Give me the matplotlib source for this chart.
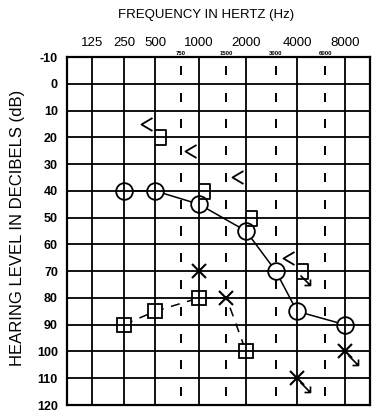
#!/usr/bin/env python3
"""Audiogram: hearing level vs frequency, both ears, air and bone conduction
"""

import numpy as np
import matplotlib
matplotlib.use("Agg")
import matplotlib.pyplot as plt
from matplotlib.path import Path

plt.rcParams['font.family'] = ['Liberation Sans', 'DejaVu Sans']

#--- data (hearing level in dB HL)
#
octave_freqs = [125, 250, 500, 1000, 2000, 4000, 8000]
half_octave_freqs = [750, 1500, 3000, 6000]
db_levels = list(range(-10, 121, 10))

# right ear, air conduction (O)
right_ac_freqs = [250, 500, 1000, 2000, 3000, 4000, 8000]
right_ac_db = [40, 40, 45, 55, 70, 85, 90]

# left ear, air conduction unmasked (X)
left_ac_freqs = [1000, 1500, 4000, 8000]
left_ac_db = [70, 80, 110, 100]
left_ac_nr = [False, False, True, True]

# left ear, air conduction masked (square)
left_masked_freqs = [250, 500, 1000, 2000]
left_masked_db = [90, 85, 80, 100]

# dashed left ear trace
left_trace_freqs = [250, 500, 1000, 1500, 2000]
left_trace_db = [90, 85, 80, 80, 100]

# right ear, bone conduction unmasked (<)
right_bc_freqs = [500, 1000, 2000, 4000]
right_bc_db = [15, 25, 35, 65]

# left ear, bone conduction masked (])
left_bc_freqs = [500, 1000, 2000, 4000]
left_bc_db = [20, 40, 50, 70]
left_bc_nr = [False, False, False, True]

DPI = 100

# the printed form does not space its octaves evenly
col_oct = [-0.5, 0, 1, 2, 3, 4, 5, 6, 6.5]
col_pos = [0, 25, 57, 88, 132, 179, 230, 278, 303]


def fwd(f):
    f = np.clip(np.asarray(f, dtype=float), 1e-3, None)
    return np.interp(np.log2(f / 125.0), col_oct, col_pos)


def inv(p):
    return 125.0 * 2 ** np.interp(p, col_pos, col_oct)


def path_marker(verts, codes):
    """open path marker, returns (path, markersize in pt) keeping pixel size"""
    verts = np.asarray(verts, dtype=float)
    size = 2 * np.abs(verts).max() * 72.0 / DPI
    return Path(verts, codes), size


M, L = Path.MOVETO, Path.LINETO
chevron, chevron_ms = path_marker([(-3, 6.5), (-14, 0), (-3, -6.5)], [M, L, L])
bracket, bracket_ms = path_marker([(0, 7.5), (11, 7.5), (11, -7.5), (0, -7.5)],
                                  [M, L, L, L])
nr_arrow, nr_arrow_ms = path_marker([(3, -4), (13, -14), (7, -14), (13, -14), (13, -8)],
                                    [M, L, M, L, L])


fig = plt.figure(figsize=(379 / DPI, 418 / DPI), dpi=DPI)
ax = fig.add_axes([67 / 379, 1 - 405 / 418, 303 / 379, 348 / 418])

ax.set_xscale('function', functions=(fwd, inv))
ax.set_xlim(125 * 2 ** -0.5, 8000 * 2 ** 0.5)
ax.set_ylim(120, -10)

ax.xaxis.tick_top()
ax.set_xticks(octave_freqs, labels=[str(f) for f in octave_freqs])
ax.set_xticks(half_octave_freqs, labels=[str(f) for f in half_octave_freqs], minor=True)
ax.set_yticks(db_levels, labels=[str(d) for d in db_levels])
ax.tick_params(which='major', axis='x', length=0, labelsize=9.5, pad=6)
ax.tick_params(which='minor', axis='x', length=0, labelsize=4.3, pad=0.8)
ax.tick_params(axis='y', length=0, labelsize=9, pad=6.5)
for lbl in ax.get_xticklabels(minor=True) + ax.get_yticklabels():
    lbl.set_fontweight('bold')

ax.grid(True, which='major', color='black', lw=1.3)
ax.set_axisbelow(False)
for sp in ax.spines.values():
    sp.set_linewidth(1.6)

# half octave dashes in the middle of each 10 dB row
row_mid = np.arange(-5, 120, 10)
ax.vlines(np.repeat(half_octave_freqs, len(row_mid)),
          np.tile(row_mid - 1.7, len(half_octave_freqs)),
          np.tile(row_mid + 1.7, len(half_octave_freqs)),
          color='black', lw=1.4, zorder=1.5)

# right ear
ax.plot(right_ac_freqs, right_ac_db, color='black', lw=1.1, zorder=1)
ax.plot(right_ac_freqs, right_ac_db, ls='none', marker='o', ms=12,
        mfc='white', mec='black', mew=1.3, zorder=2)
ax.plot(right_bc_freqs, right_bc_db, ls='none', marker=chevron, ms=chevron_ms,
        mfc='none', mec='black', mew=1.3, zorder=3)

# left ear
ax.plot(left_trace_freqs, left_trace_db, color='black', lw=1.1,
        ls=(0, (6, 5)), zorder=1)
ax.plot(left_masked_freqs, left_masked_db, ls='none', marker='s', ms=10.5,
        mfc='white', mec='black', mew=1.3, zorder=2)
ax.plot(left_ac_freqs, left_ac_db, ls='none', marker='x', ms=10,
        mec='black', mew=1.5, zorder=3)
ax.plot(left_bc_freqs, left_bc_db, ls='none', marker=bracket, ms=bracket_ms,
        mfc='none', mec='black', mew=1.3, zorder=3)

# no response arrows
nr_f = [f for f, nr in zip(left_ac_freqs, left_ac_nr) if nr] + \
       [f for f, nr in zip(left_bc_freqs, left_bc_nr) if nr]
nr_db = [d for d, nr in zip(left_ac_db, left_ac_nr) if nr] + \
        [d for d, nr in zip(left_bc_db, left_bc_nr) if nr]
ax.plot(nr_f, nr_db, ls='none', marker=nr_arrow, ms=nr_arrow_ms,
        mfc='none', mec='black', mew=1.2, zorder=3)

fig.text(206 / 379, 1 - 15 / 418, 'FREQUENCY IN HERTZ (Hz)', ha='center',
         va='center', fontsize=9.5)
fig.text(18 / 379, 1 - 228 / 418, 'HEARING LEVEL IN DECIBELS (dB)', ha='center',
         va='center', rotation=90, fontsize=12)

fig.savefig('out.png', dpi=DPI)
